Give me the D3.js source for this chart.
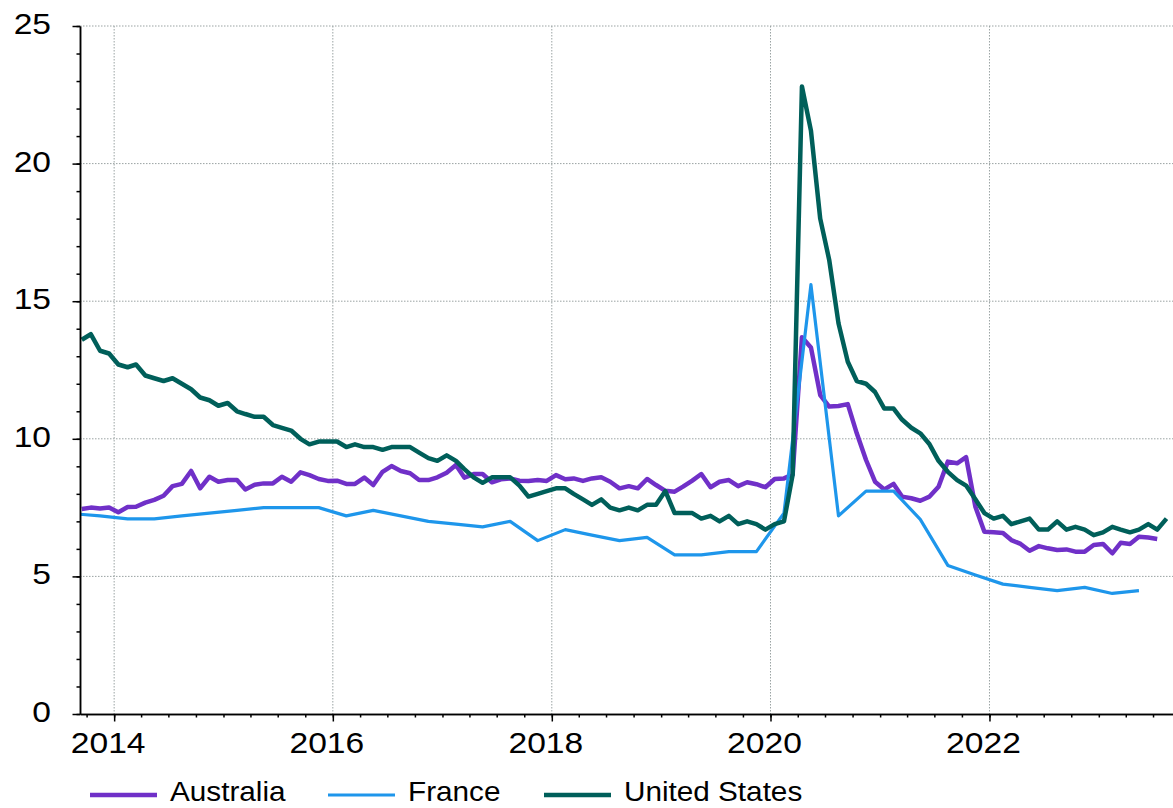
<!DOCTYPE html>
<html>
<head>
<meta charset="utf-8">
<script src="https://cdn.jsdelivr.net/npm/d3@7"></script>
<style>
  body { margin: 0; background: #fff; }
  text { font-family: "Liberation Sans", Arial, sans-serif; fill: #000; }
</style>
</head>
<body>
<div id="chart"></div>
<script>
// monthly series start Sep 2013, France is quarterly (mid-quarter month) from Aug 2013
const monthlyStart = [2013, 8]
const quarterlyStart = [2013, 7]

const australia = [7.45, 7.5, 7.47, 7.5, 7.33, 7.52, 7.53, 7.68, 7.78, 7.93, 8.28, 8.36,
  8.83, 8.2, 8.62, 8.44, 8.5, 8.5, 8.16, 8.33, 8.38, 8.38, 8.62, 8.44,
  8.78, 8.68, 8.54, 8.47, 8.48, 8.36, 8.36, 8.59, 8.32, 8.8, 9.01, 8.83,
  8.75, 8.5, 8.5, 8.6, 8.77, 9.05, 8.59, 8.72, 8.72, 8.42, 8.53, 8.56,
  8.48, 8.47, 8.5, 8.47, 8.68, 8.53, 8.56, 8.47, 8.56, 8.6, 8.44, 8.2,
  8.28, 8.2, 8.54, 8.32, 8.11, 8.08, 8.26, 8.48, 8.72, 8.24, 8.44, 8.5,
  8.28, 8.42, 8.35, 8.24, 8.54, 8.56, 8.7, 13.69, 13.32, 11.59, 11.17, 11.19,
  11.26, 10.2, 9.23, 8.44, 8.16, 8.36, 7.9, 7.84, 7.75, 7.9, 8.26, 9.17,
  9.11, 9.33, 7.53, 6.62, 6.6, 6.58, 6.32, 6.18, 5.93, 6.1, 6.02, 5.96,
  5.98, 5.9, 5.9, 6.14, 6.18, 5.84, 6.22, 6.18, 6.44, 6.41, 6.36]

const france = [7.28, 7.2, 7.09, 7.09, 7.2, 7.3, 7.4, 7.5, 7.5, 7.5,
  7.2, 7.4, 7.2, 7.0, 6.9, 6.8, 7.0, 6.3, 6.7, 6.5,
  6.3, 6.42, 5.78, 5.78, 5.9, 5.9, 7.3, 15.6, 7.2, 8.1,
  8.1, 7.07, 5.4, 5.05, 4.72, 4.6, 4.48, 4.6, 4.38, 4.48]

const unitedStates = [13.6, 13.8, 13.2, 13.1, 12.7, 12.6, 12.7, 12.3, 12.2, 12.1, 12.2, 12.0,
  11.8, 11.5, 11.4, 11.2, 11.3, 11.0, 10.9, 10.8, 10.8, 10.5, 10.4, 10.3,
  10.0, 9.8, 9.9, 9.9, 9.9, 9.7, 9.8, 9.7, 9.7, 9.6, 9.7, 9.7,
  9.7, 9.5, 9.3, 9.2, 9.4, 9.2, 8.9, 8.6, 8.4, 8.6, 8.6, 8.6,
  8.3, 7.9, 8.0, 8.1, 8.2, 8.2, 8.0, 7.8, 7.6, 7.8, 7.5, 7.4,
  7.5, 7.4, 7.6, 7.6, 8.1, 7.3, 7.3, 7.3, 7.1, 7.2, 7.0, 7.2,
  6.9, 7.0, 6.9, 6.7, 6.9, 7.0, 8.7, 22.8, 21.2, 18.0, 16.5, 14.2,
  12.8, 12.1, 12.0, 11.7, 11.1, 11.1, 10.7, 10.4, 10.2, 9.8, 9.2, 8.8,
  8.5, 8.3, 7.8, 7.3, 7.1, 7.2, 6.9, 7.0, 7.1, 6.7, 6.7, 7.0,
  6.7, 6.8, 6.7, 6.5, 6.6, 6.8, 6.7, 6.6, 6.7, 6.9, 6.7, 7.1]

const seriesNames = ['Australia', 'France', 'United States']
const colors = ['#7030c8', '#1e96eb', '#005f5a']
const yTicks = [0, 5, 10, 15, 20, 25]

const width = 1173, height = 808
const margin = { top: 26, right: -1, bottom: 94, left: 80 }
const innerW = width - margin.left - margin.right,
      innerH = height - margin.top - margin.bottom

const toDates = (vals, start, step) =>
  vals.map((v, i) => ({ date: new Date(start[0], start[1] + i * step, 15), value: v }))

const series = [
  toDates(australia, monthlyStart, 1),
  toDates(france, quarterlyStart, 3),
  toDates(unitedStates, monthlyStart, 1)
]
const widths = [4.5, 3.2, 4.5]

const x = d3.scaleTime()
  .domain([new Date(2013, 8, 9), new Date(2023, 8, 9)])
  .range([0, innerW])

const y = d3.scaleLinear()
  .domain([0, 25])
  .range([innerH, 0])

const svg = d3.select('#chart').append('svg')
  .attr('width', width)
  .attr('height', height)

svg.append('defs').append('clipPath').attr('id', 'plot-clip')
  .append('rect').attr('width', innerW).attr('height', innerH)

const g = svg.append('g')
  .attr('transform', 'translate(' + margin.left + ', ' + margin.top + ')')

// grid
const years = d3.timeYear.every(2).range(new Date(2014, 0, 1), new Date(2023, 6, 1))
g.append('g').selectAll('line')
  .data(years).enter().append('line')
  .attr('x1', d => x(d)).attr('x2', d => x(d))
  .attr('y1', 0).attr('y2', innerH)
  .attr('stroke', '#9aa3a3').attr('stroke-dasharray', '1.5,1.5')
g.append('g').selectAll('line')
  .data(yTicks.slice(1)).enter().append('line')
  .attr('x1', 0).attr('x2', innerW)
  .attr('y1', d => y(d)).attr('y2', d => y(d))
  .attr('stroke', '#9aa3a3').attr('stroke-dasharray', '1.5,1.5')

// lines
const line = d3.line().x(d => x(d.date)).y(d => y(d.value))
g.append('g').attr('clip-path', 'url(#plot-clip)')
  .selectAll('path')
  .data(series).enter().append('path')
  .attr('d', line)
  .attr('fill', 'none')
  .attr('stroke', (d, i) => colors[i])
  .attr('stroke-width', (d, i) => widths[i])
  .attr('stroke-linejoin', 'round')

// axes
const styleAxis = sel => {
  sel.select('.domain').attr('stroke', '#000').attr('stroke-width', 1.5)
  sel.selectAll('.tick line').attr('stroke', '#000').attr('stroke-width', 1.5)
}

g.append('g').call(d3.axisLeft(y).tickValues(d3.range(0, 26)).tickSize(3.5).tickFormat('').tickSizeOuter(0)).call(styleAxis)
g.append('g').call(d3.axisLeft(y).tickValues(yTicks).tickSize(7.5).tickFormat('').tickSizeOuter(0)).call(styleAxis)

const quarters = d3.timeMonth.every(3).range(new Date(2013, 9, 1), new Date(2023, 8, 9))
g.append('g').attr('transform', 'translate(0, ' + innerH + ')')
  .call(d3.axisBottom(x).tickValues(quarters).tickSize(3.5).tickFormat('').tickSizeOuter(0)).call(styleAxis)
g.append('g').attr('transform', 'translate(0, ' + innerH + ')')
  .call(d3.axisBottom(x).tickValues(years).tickSize(7.5).tickFormat('').tickSizeOuter(0)).call(styleAxis)

// tick labels (the original type is a bit wide, so stretch horizontally)
g.append('g').selectAll('text')
  .data(yTicks).enter().append('text')
  .attr('transform', d => 'translate(-29, ' + (y(d) + 8) + ') scale(1.12, 1)')
  .attr('text-anchor', 'end')
  .style('font-size', '30px')
  .text(d => d)

g.append('g').selectAll('text')
  .data(years).enter().append('text')
  .attr('transform', d => 'translate(' + (x(d) - 6) + ', ' + (innerH + 39) + ') scale(1.12, 1)')
  .attr('text-anchor', 'middle')
  .style('font-size', '30px')
  .text(d => d3.timeFormat('%Y')(d))

// legend
const legendX = [90, 328, 544]
const legend = svg.append('g').selectAll('g')
  .data(seriesNames).enter().append('g')
  .attr('transform', (d, i) => 'translate(' + legendX[i] + ', 795)')
legend.append('line')
  .attr('x1', 0).attr('x2', 67)
  .attr('stroke', (d, i) => colors[i])
  .attr('stroke-width', (d, i) => widths[i])
legend.append('text')
  .attr('transform', 'translate(80, 6) scale(1.08, 1)')
  .style('font-size', '27.5px')
  .text(d => d)
</script>
</body>
</html>
